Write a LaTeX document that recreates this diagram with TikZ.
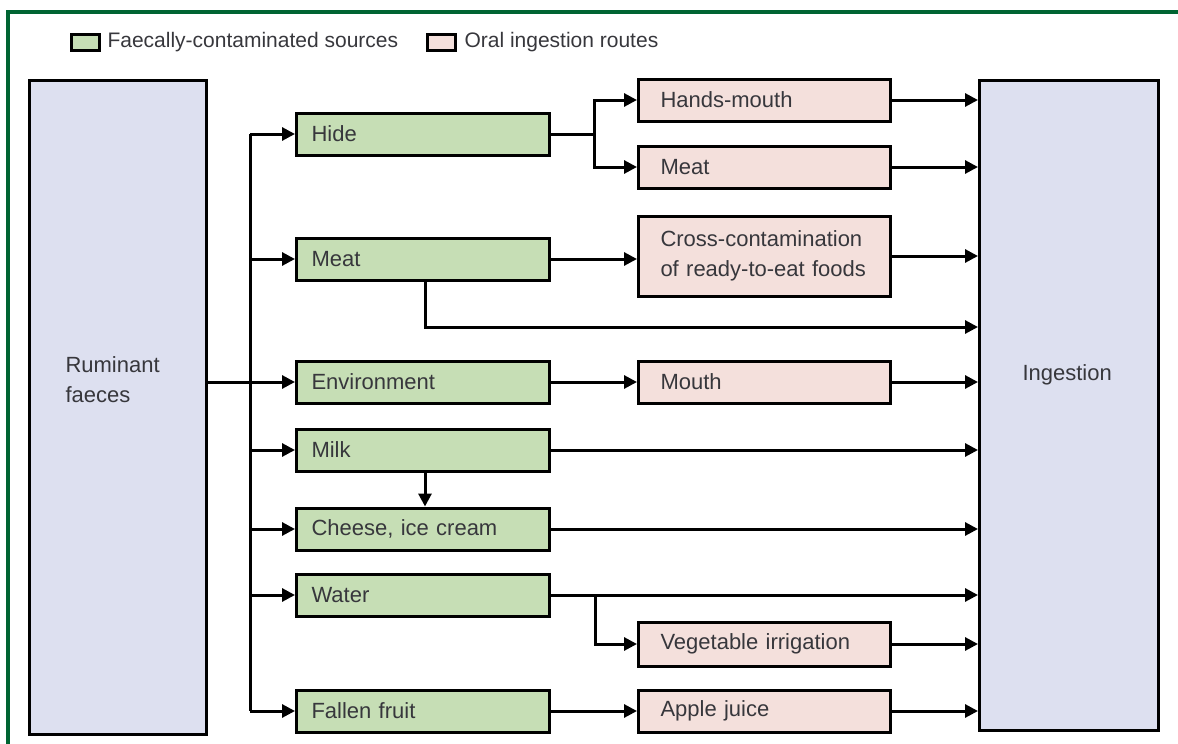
\documentclass[tikz,border=0pt]{standalone}
\usepackage{fontspec}
\setmainfont{Liberation Sans}
\usetikzlibrary{arrows.meta}
\definecolor{srcgreen}{RGB}{198,222,181}
\definecolor{routepink}{RGB}{244,224,220}
\definecolor{hostblue}{RGB}{221,224,240}
\definecolor{framegreen}{RGB}{0,100,50}
\definecolor{txtgray}{RGB}{55,55,60}

\begin{document}
\begin{tikzpicture}[x=1pt,y=-1pt,
	font=\fontsize{22}{30}\selectfont, text=txtgray,
	box/.style={draw=black,line width=3pt,align=left,anchor=west},
	srcbox/.style={box,fill=srcgreen,minimum width=253pt,minimum height=42pt,inner xsep=15pt,text width=223pt},
	routebox/.style={box,fill=routepink,minimum width=252pt,minimum height=42pt,inner xsep=22pt,text width=208pt},
	hostbox/.style={draw=black,line width=3pt,fill=hostblue,anchor=north west,inner sep=0pt},
	keybox/.style={draw=black,line width=3pt,minimum width=28pt,minimum height=16pt,inner sep=0pt,anchor=west},
	keytext/.style={anchor=west,font=\fontsize{21}{25}\selectfont},
	link/.style={line width=3pt},
	flow/.style={link,-{Triangle[length=13pt,width=13pt]}}]
			%%%%% START %%%%%
			
			\useasboundingbox (0,0) rectangle (1178,744);
			\draw[framegreen, line width=3.5pt] (8,800) |- (1220,12);
			
			% legend
			\node[keybox, fill=srcgreen] (keysrc) at (70,42) {};
			\node[keytext] (keysrclbl) at (104,42) {Faecally-contaminated sources};
			\node[keybox, fill=routepink] (keyroute) at (426,42) {};
			\node[keytext] (keyroutelbl) at (461,42) {Oral ingestion routes};
			
			% reservoir and ingestion
			\node[hostbox, minimum width=177pt, minimum height=654pt] (rum) at (28,79) {};
			\node[anchor=west, align=left] (rumlbl) at (62,380) {Ruminant\\faeces};
			\node[hostbox, minimum width=179pt, minimum height=650pt] (ing) at (978,79) {};
			\node[anchor=west] (inglbl) at (1019,375) {Ingestion};
			
			% faecally-contaminated sources
			\node[srcbox] (hide) at (295,134) {Hide};
			\node[srcbox] (meat) at (295,259) {Meat};
			\node[srcbox] (env) at (295,382) {Environment};
			\node[srcbox] (milk) at (295,450) {Milk};
			\node[srcbox] (cheese) at (295,529) {Cheese, ice cream};
			\node[srcbox] (water) at (295,595) {Water};
			\node[srcbox] (fallen) at (295,711) {Fallen fruit};
			
			% oral ingestion routes
			\node[routebox] (hands) at (637,100) {Hands-mouth};
			\node[routebox] (meatrt) at (637,167) {Meat};
			\node[routebox, minimum height=80pt] (cross) at (637,256) {Cross-contamination\\of ready-to-eat foods};
			\node[routebox] (mouth) at (637,382) {Mouth};
			\node[routebox, minimum height=44pt] (veg) at (637,644) {Vegetable irrigation};
			\node[routebox] (apple) at (637,711) {Apple juice};
			
			% connectors
			\coordinate (bus) at (250,0);
			\coordinate (drop) at (425,0);
			\coordinate (hidefork) at (594,0);
			\coordinate (waterfork) at (595,0);
			\coordinate (meatlow) at (425,327);
			
			\draw[link] (bus |- hide.west) -- (bus |- fallen.west);
			\draw[flow] (rum.east |- env.west) -- (env.west);
			\foreach \s in {hide,meat,milk,cheese,water,fallen}
				\draw[flow] (bus |- \s.west) -- (\s.west);
			
			\draw[link] (hide.east) -- (hidefork |- hide.east);
			\draw[flow] (hidefork |- hide.east) |- (hands.west);
			\draw[flow] (hidefork |- hide.east) |- (meatrt.west);
			
			\draw[flow] (meat.east) -- (meat.east -| cross.west);
			\draw[flow] (meatlow |- meat.south) |- (ing.west |- meatlow);
			\draw[flow] (env.east) -- (mouth.west);
			\draw[flow] (drop |- milk.south) -- (drop |- cheese.north);
			\draw[flow] (waterfork |- water.east) |- (veg.west);
			\draw[flow] (fallen.east) -- (apple.west);
			
			\foreach \r in {hands,meatrt,cross,mouth,veg,apple,milk,cheese,water}
				\draw[flow] (\r.east) -- (\r.east -| ing.west);
			
			%%%%% END %%%%%
		\end{tikzpicture}
\end{document}
